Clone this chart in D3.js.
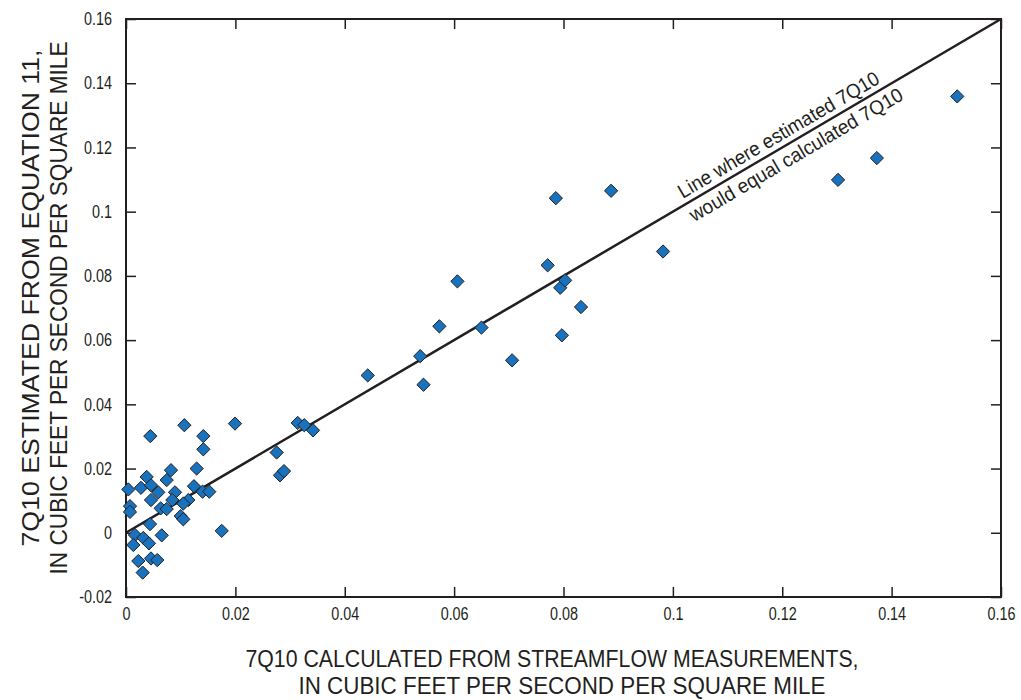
<!DOCTYPE html>
<html>
<head>
<meta charset="utf-8">
<script src="https://cdn.jsdelivr.net/npm/d3@7"></script>
<style>
  body { margin: 0; background: #fff; }
  svg { display: block; }
  text { font-family: "Liberation Sans", Arial, sans-serif; fill: #231f20; }
</style>
</head>
<body>
<svg id="chart" width="1021" height="700"></svg>
<script>
// 7Q10 calculated from streamflow measurements (cfs per sq mi)
const calculated = [
  0.1302, 0.1373, 0.1520, 0.0982, 0.0887, 0.0786, 0.0771, 0.0794, 0.0803, 0.0832,
  0.0797, 0.0606, 0.0573, 0.0706, 0.0650, 0.0538, 0.0544, 0.0442, 0.0314, 0.0326,
  0.0342, 0.02755, 0.02816, 0.02889,
  0.01067, 0.01993, 0.00445, 0.01414, 0.01414, 0.01292, 0.00823, 0.00744, 0.00378, 0.00274,
  0.00457, 0.00043, 0.0059, 0.00896, 0.01243, 0.0140, 0.01523, 0.00457, 0.00847, 0.0114,
  0.01048, 0.00073, 0.00073, 0.00634, 0.00744, 0.0100, 0.01048, 0.00439, 0.0175, 0.00165,
  0.00317, 0.00653, 0.0042, 0.00134, 0.00225, 0.00457, 0.00572, 0.00305
];
// 7Q10 estimated from equation 11 (cfs per sq mi)
const estimated = [
  0.1099, 0.1167, 0.1359, 0.0876, 0.1065, 0.1042, 0.0833, 0.0763, 0.0786, 0.0703,
  0.0615, 0.0783, 0.0643, 0.0537, 0.0639, 0.0550, 0.0461, 0.0490, 0.0342, 0.0335,
  0.0319, 0.0250, 0.0179, 0.0192,
  0.0335, 0.0340, 0.0301, 0.0301, 0.0260, 0.0200, 0.0195, 0.0164, 0.0174, 0.0140,
  0.0148, 0.0135, 0.0126, 0.0126, 0.0145, 0.0128, 0.0128, 0.0102, 0.0102, 0.0102,
  0.0091, 0.0083, 0.0065, 0.0076, 0.0074, 0.0052, 0.0042, 0.0027, 0.0006, -0.0007,
  -0.0016, -0.0008, -0.0033, -0.0038, -0.0088, -0.0080, -0.0085, -0.0124
];
const xTicks = [0, 0.02, 0.04, 0.06, 0.08, 0.1, 0.12, 0.14, 0.16];
const yTicks = [-0.02, 0, 0.02, 0.04, 0.06, 0.08, 0.1, 0.12, 0.14, 0.16];
const equalLine = [[0, 0], [0.16, 0.16]];

const svg = d3.select("#chart");
const plotLeft = 126, plotRight = 1001, plotTop = 19, plotBottom = 597;

const x = d3.scaleLinear().domain([0, 0.16]).range([plotLeft, plotRight]);
const y = d3.scaleLinear().domain([-0.02, 0.16]).range([plotBottom, plotTop]);
const fmt = d => d === 0 ? "0" : String(+d.toFixed(2));
const ink = "#231f20";
const tickLen = 10;
const narrow = 0.8; // horizontal squeeze for a condensed look

// frame
svg.append("rect")
  .attr("x", plotLeft).attr("y", plotTop)
  .attr("width", plotRight - plotLeft).attr("height", plotBottom - plotTop)
  .attr("fill", "none").attr("stroke", ink).attr("stroke-width", 2);

// axes with inward ticks on all four sides
function styleAxis(g) {
  g.select(".domain").remove();
  g.selectAll(".tick line").attr("stroke", ink).attr("stroke-width", 1.5);
  g.selectAll(".tick text")
    .style("font-size", "18px")
    .attr("fill", ink)
    .attr("transform", `scale(${narrow},1)`);
}
svg.append("g").attr("transform", `translate(0,${plotBottom})`)
  .call(d3.axisBottom(x).tickValues(xTicks).tickFormat(fmt).tickSizeInner(-tickLen).tickPadding(5))
  .call(styleAxis)
  .call(g => g.selectAll(".tick text").attr("dy", "1.0em"));
svg.append("g").attr("transform", `translate(0,${plotTop})`)
  .call(d3.axisTop(x).tickValues(xTicks).tickFormat("").tickSizeInner(-tickLen))
  .call(styleAxis);
svg.append("g").attr("transform", `translate(${plotLeft},0)`)
  .call(d3.axisLeft(y).tickValues(yTicks).tickFormat(fmt).tickSizeInner(-tickLen).tickPadding(14 / narrow))
  .call(styleAxis);
svg.append("g").attr("transform", `translate(${plotRight},0)`)
  .call(d3.axisRight(y).tickValues(yTicks).tickFormat("").tickSizeInner(-tickLen))
  .call(styleAxis);

// 1:1 line
svg.append("path")
  .datum(equalLine)
  .attr("d", d3.line().x(d => x(d[0])).y(d => y(d[1])))
  .attr("fill", "none").attr("stroke", ink).attr("stroke-width", 2.5);

// line annotation, rotated along the 1:1 line
const ax = 0.1205;
const angle = Math.atan2(y(0.16) - y(0), x(0.16) - x(0)) * 180 / Math.PI;
const note = svg.append("g")
  .attr("transform", `translate(${x(ax)},${y(ax)}) rotate(${angle})`);
note.append("text").attr("x", 0).attr("y", -6)
  .attr("text-anchor", "middle").style("font-size", "20px")
  .attr("textLength", 230).attr("lengthAdjust", "spacingAndGlyphs")
  .text("Line where estimated 7Q10");
note.append("text").attr("x", 5).attr("y", 20)
  .attr("text-anchor", "middle").style("font-size", "20px")
  .attr("textLength", 244).attr("lengthAdjust", "spacingAndGlyphs")
  .text("would equal calculated 7Q10");

// data points as diamonds
const pts = calculated.map((c, i) => [c, estimated[i]]);
svg.append("g").selectAll("path")
  .data(pts)
  .join("path")
  .attr("transform", d => `translate(${x(d[0])},${y(d[1])})`)
  .attr("d", d3.symbol(d3.symbolDiamond2, 112))
  .attr("fill", "#1872bd")
  .attr("stroke", "#231f20")
  .attr("stroke-width", 1);

// axis titles
svg.append("text").attr("text-anchor", "middle").style("font-size", "23px")
  .attr("x", 552).attr("y", 667)
  .attr("textLength", 613).attr("lengthAdjust", "spacingAndGlyphs")
  .text("7Q10 CALCULATED FROM STREAMFLOW MEASUREMENTS,");
svg.append("text").attr("text-anchor", "middle").style("font-size", "23px")
  .attr("x", 562).attr("y", 694)
  .attr("textLength", 527).attr("lengthAdjust", "spacingAndGlyphs")
  .text("IN CUBIC FEET PER SECOND PER SQUARE MILE");

svg.append("text").attr("text-anchor", "middle").style("font-size", "24px")
  .attr("transform", `translate(39,298) rotate(-90)`)
  .attr("textLength", 497).attr("lengthAdjust", "spacingAndGlyphs")
  .text("7Q10 ESTIMATED FROM EQUATION 11,");
svg.append("text").attr("text-anchor", "middle").style("font-size", "24px")
  .attr("transform", `translate(67,308) rotate(-90)`)
  .attr("textLength", 533).attr("lengthAdjust", "spacingAndGlyphs")
  .text("IN CUBIC FEET PER SECOND PER SQUARE MILE");
</script>
</body>
</html>
